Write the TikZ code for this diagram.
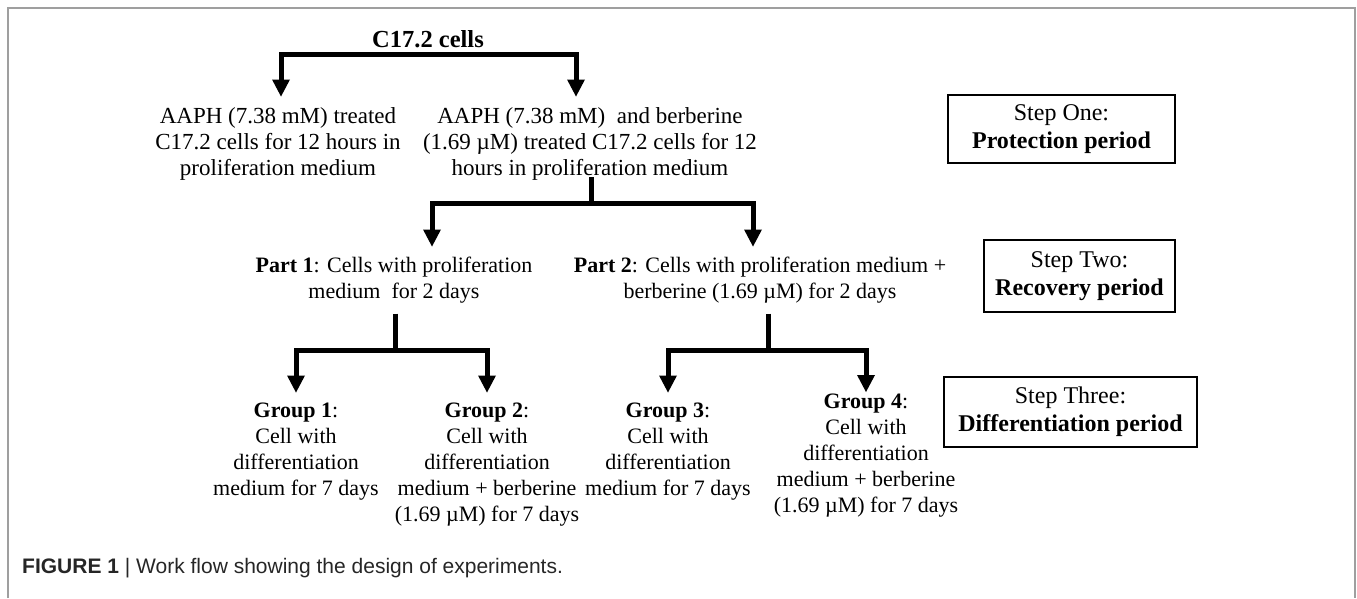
\documentclass[tikz,border=0pt]{standalone}
\usepackage{fontspec}
\setmainfont{Liberation Serif}
\setsansfont{Liberation Sans}
\usetikzlibrary{arrows.meta}

\tikzset{
  txt/.style={align=center, inner sep=0pt, anchor=north, font=\fontsize{22}{26}\selectfont},
  toptxt/.style={txt, font=\fontsize{23}{26}\selectfont},
  stepbox/.style={draw, line width=2.4pt, align=center, inner sep=0pt, font=\fontsize{24}{28}\selectfont},
  branch/.style={line width=5pt, -{Triangle[length=17pt,width=18pt,line width=0pt]}, shorten >=10.5pt},
  stem/.style={line width=5pt}
}

\begin{document}
\begin{tikzpicture}[x=1pt, y=-1pt]
\useasboundingbox (0,0) rectangle (1357,598);
% outer frame
\draw[gray!75, line width=1.5pt] (8,598) -- (8,8) -- (1355,8) -- (1355,598);

% top
\node[anchor=base, inner sep=0pt, font=\fontsize{24.5}{28}\selectfont\bfseries] (cells) at (428,47) {C17.2 cells};
\coordinate (j1) at (428,54);

% step one
\node[toptxt] (aaph) at (278,107) {AAPH (7.38 mM) treated\\C17.2 cells for 12 hours in\\proliferation medium};
\node[toptxt] (aaphb) at (590,107) {AAPH (7.38 mM)\ \ and berberine\\(1.69 µM) treated C17.2 cells for 12\\hours in proliferation medium};
\node[stepbox, minimum width=227pt, minimum height=68pt] (step1) at (1061.5,129) {Step One:\\\textbf{Protection period}};

\draw[branch] (j1) -| ([xshift=3pt]aaph.north);
\draw[branch] (j1) -| ([xshift=-14pt]aaphb.north);

% step two
\coordinate (j2) at (591,203);
\node[txt] (part1) at (394,257) {\textbf{Part 1}: Cells with proliferation\\medium\ \ for 2 days};
\node[txt] (part2) at (760,257) {\textbf{Part 2}: Cells with proliferation medium +\\berberine (1.69 µM) for 2 days};
\node[stepbox, minimum width=191pt, minimum height=72pt] (step2) at (1079.5,276) {Step Two:\\\textbf{Recovery period}};

\draw[stem, shorten <=-3pt] (aaphb.south -| j2) -- (j2);
\draw[branch] (j2) -| ([xshift=38pt]part1.north);
\draw[branch] (j2) -| ([xshift=-7pt]part2.north);

% step three
\coordinate (j3) at (395,350);
\coordinate (j4) at (768,350);
\node[txt] (grp1) at (296,403) {\textbf{Group 1}:\\Cell with\\differentiation\\medium for 7 days};
\node[txt] (grp2) at (487,403) {\textbf{Group 2}:\\Cell with\\differentiation\\medium + berberine\\(1.69 µM) for 7 days};
\node[txt] (grp3) at (668,403) {\textbf{Group 3}:\\Cell with\\differentiation\\medium for 7 days};
\node[txt] (grp4) at (866,393.5) {\textbf{Group 4}:\\Cell with\\differentiation\\medium + berberine\\(1.69 µM) for 7 days};
\node[stepbox, minimum width=253pt, minimum height=70pt] (step3) at (1070.5,412) {Step Three:\\\textbf{Differentiation period}};

\draw[stem, shorten <=10pt] (part1.south -| j3) -- (j3);
\draw[stem, shorten <=10pt] (part2.south -| j4) -- (j4);
\draw[branch] (j3) -| (grp1.north);
\draw[branch] (j3) -| (grp2.north);
\draw[branch] (j4) -| (grp3.north);
\draw[branch, shorten >=1.5pt] (j4) -| (grp4.north);

% caption
\node[anchor=base west, inner sep=0pt, text=black!85, font=\sffamily\fontsize{21}{24}\selectfont] (caption) at (22,573)
  {\textbf{FIGURE 1} | Work flow showing the design of experiments.};
\end{tikzpicture}
\end{document}
